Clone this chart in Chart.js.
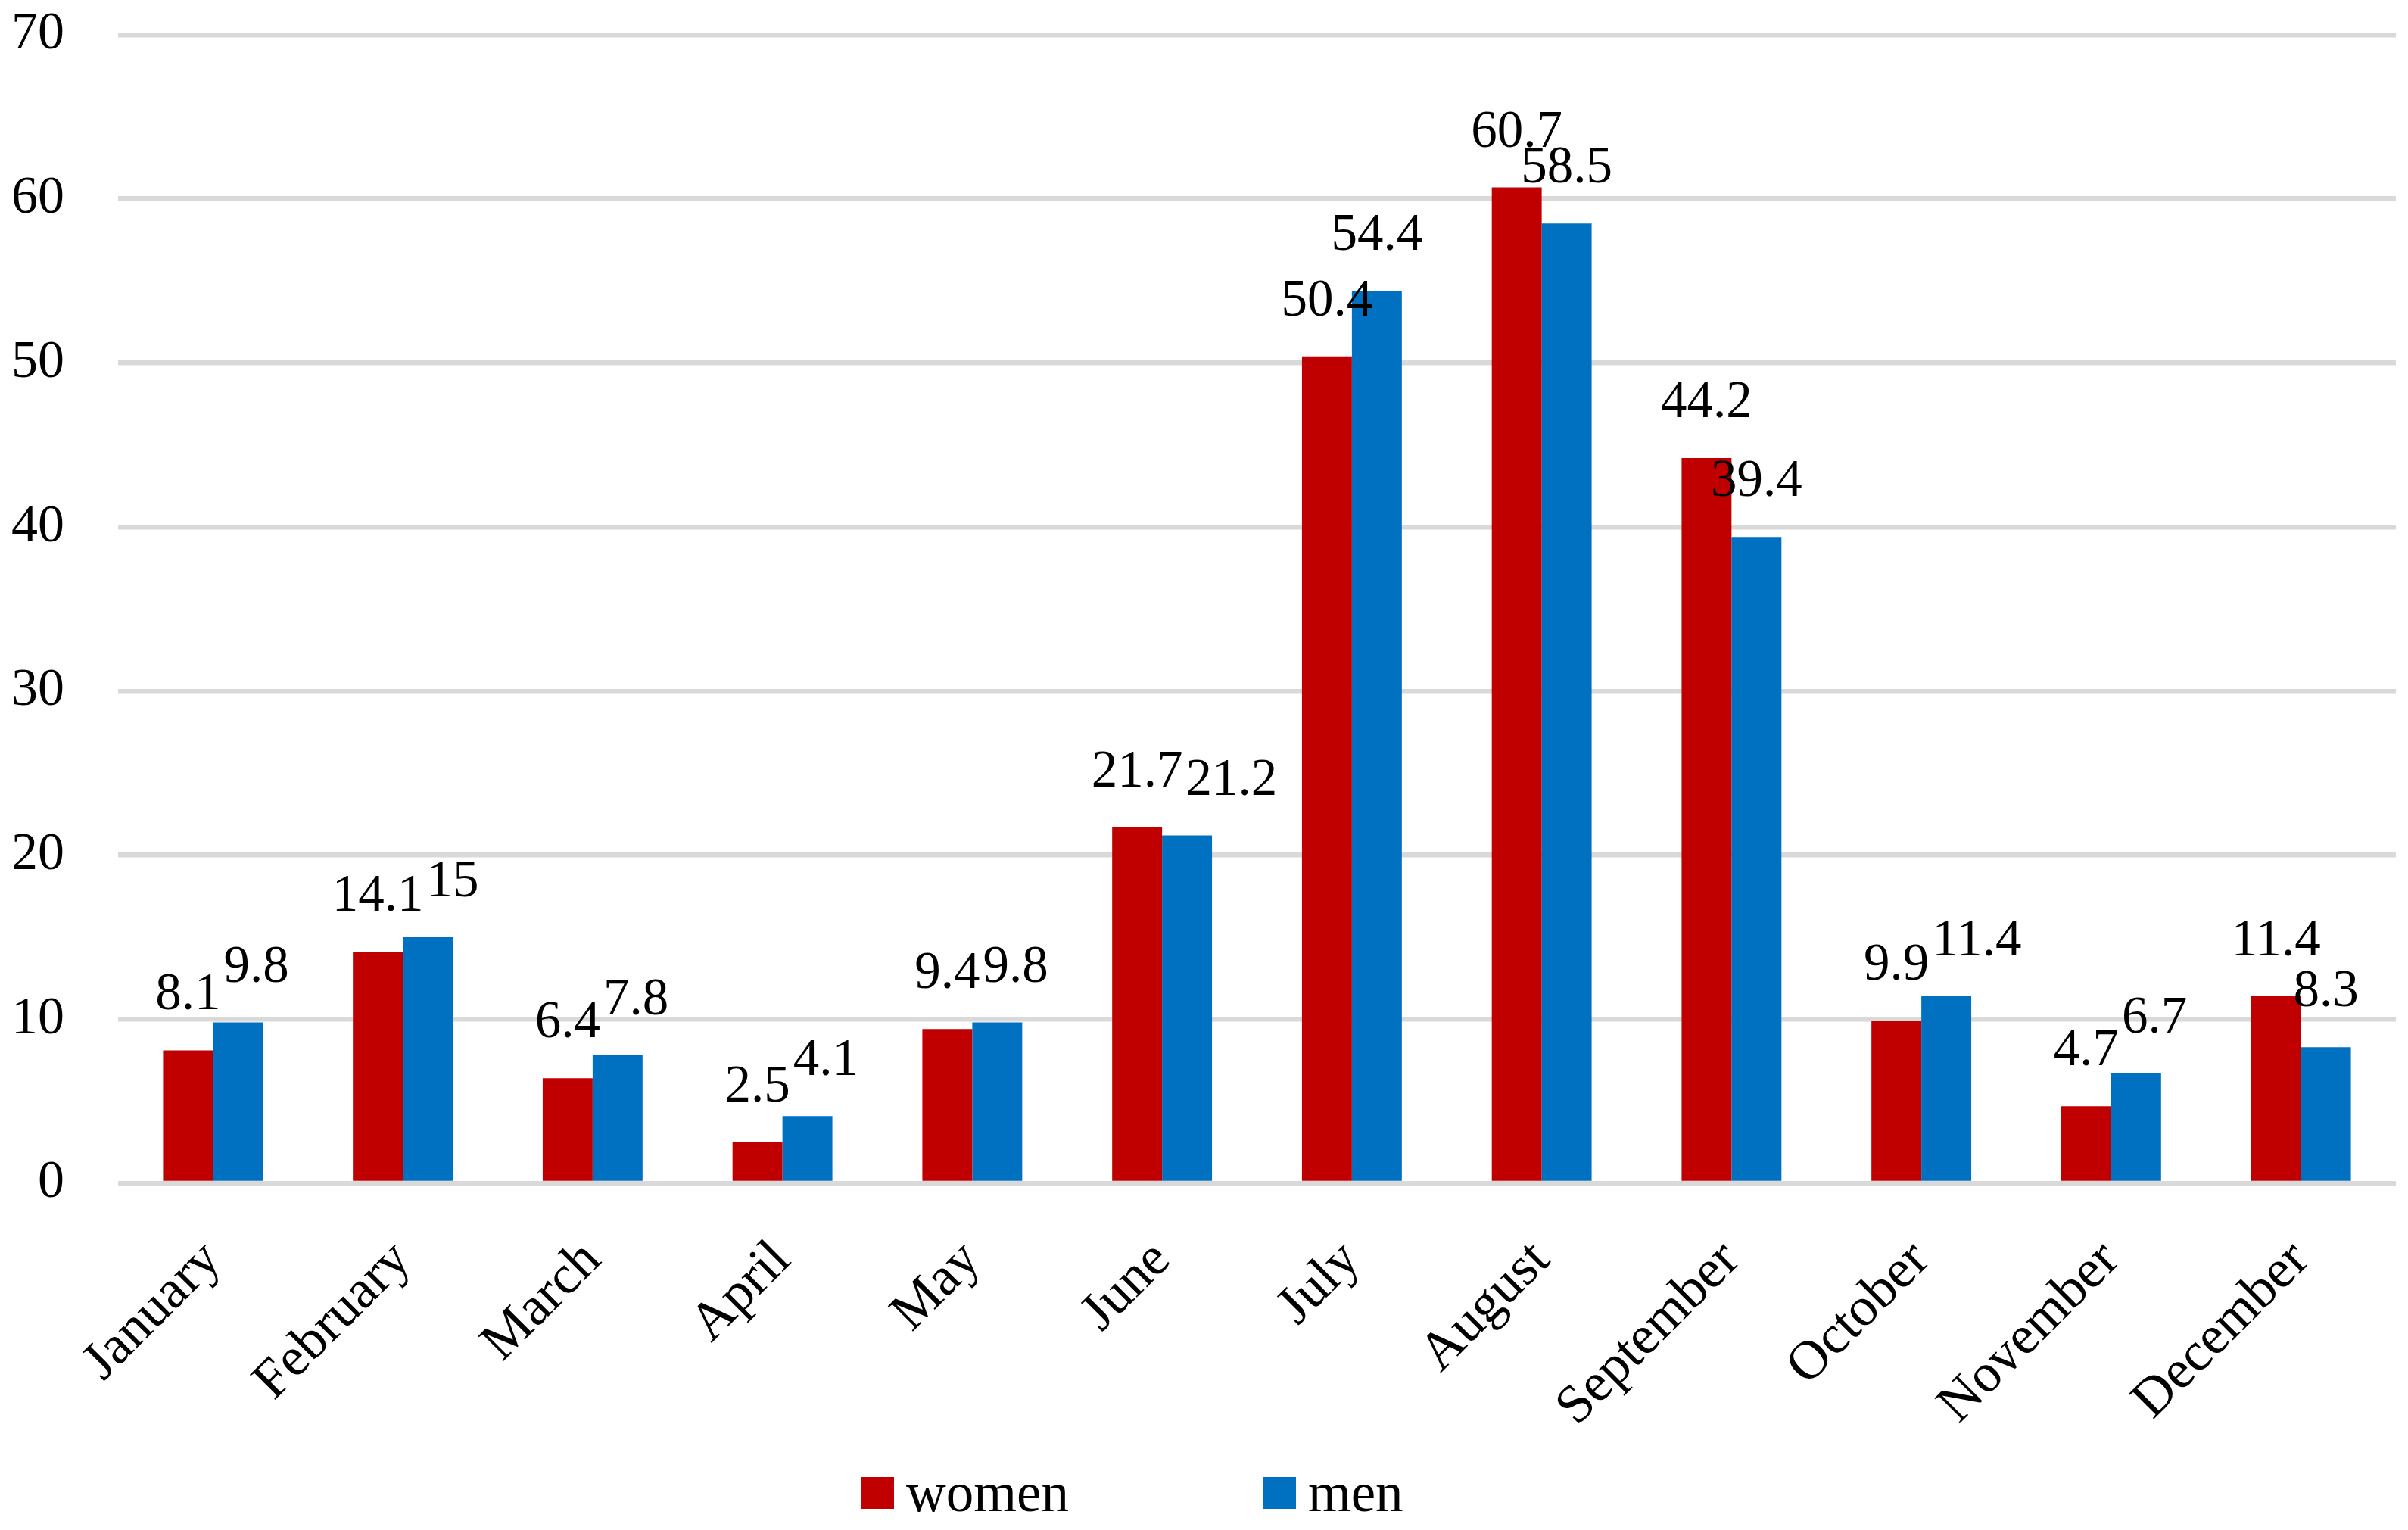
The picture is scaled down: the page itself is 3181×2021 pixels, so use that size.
<!DOCTYPE html>
<html>
<head>
<meta charset="utf-8">
<script src="https://cdn.jsdelivr.net/npm/chart.js@4"></script>
<style>
  html, body { margin: 0; padding: 0; background: #fff; }
  #wrap { position: relative; width: 3181px; height: 2021px; }
  #legend {
    position: absolute; left: 1138px; top: 1930px;
    display: flex; align-items: center;
    font-family: 'Liberation Serif', serif; font-size: 73px; color: #000;
  }
  .item { display: flex; align-items: center; }
  .item + .item { margin-left: 257px; }
  .swatch { width: 43px; height: 42px; margin-right: 16px; }
</style>
</head>
<body>
<div id="wrap">
  <canvas id="chart" width="3181" height="2021"></canvas>
  <div id="legend"></div>
</div>
<script>
const months = ['January', 'February', 'March', 'April', 'May', 'June', 'July',
  'August', 'September', 'October', 'November', 'December'];
const women = [8.1, 14.1, 6.4, 2.5, 9.4, 21.7, 50.4, 60.7, 44.2, 9.9, 4.7, 11.4];
const men = [9.8, 15, 7.8, 4.1, 9.8, 21.2, 54.4, 58.5, 39.4, 11.4, 6.7, 8.3];
const seriesNames = ['women', 'men'];
const seriesColors = ['#C00000', '#0070C0'];

const FONT = "'Liberation Serif', serif";
const PLOT_LEFT = 156;

// value labels above each bar (no datalabels plugin offline).
// when the two labels of a month would collide, the second one slides right.
const valueLabels = {
  id: 'valueLabels',
  afterDatasetsDraw(chart) {
    const ctx = chart.ctx;
    const lift = 54, capH = 46, gap = 4;
    ctx.save();
    ctx.font = '69px ' + FONT;
    ctx.fillStyle = '#000';
    ctx.textAlign = 'center';
    ctx.textBaseline = 'alphabetic';
    const a = chart.getDatasetMeta(0).data;
    const b = chart.getDatasetMeta(1).data;
    a.forEach((barA, j) => {
      const barB = b[j];
      const tA = String(chart.data.datasets[0].data[j]);
      const tB = String(chart.data.datasets[1].data[j]);
      const wA = ctx.measureText(tA).width;
      const wB = ctx.measureText(tB).width;
      const yA = barA.y - lift, yB = barB.y - lift;
      let xB = barB.x;
      if (Math.abs(yA - yB) < capH) {
        const overlap = (barA.x + wA / 2 + gap) - (xB - wB / 2);
        if (overlap > 0) xB += overlap;
      }
      ctx.fillText(tA, barA.x, yA);
      ctx.fillText(tB, xB, yB);
    });
    ctx.restore();
  }
};

const chart = new Chart(document.getElementById('chart'), {
  type: 'bar',
  data: {
    labels: months,
    datasets: [women, men].map((vals, i) => ({
      label: seriesNames[i],
      data: vals,
      backgroundColor: seriesColors[i],
      borderWidth: 0,
      barPercentage: 1,
      categoryPercentage: 0.526
    }))
  },
  options: {
    responsive: false,
    animation: false,
    devicePixelRatio: 1,
    layout: { padding: { top: 46, right: 16, left: 12, bottom: 0 } },
    plugins: {
      legend: { display: false },
      tooltip: { enabled: false }
    },
    scales: {
      x: {
        grid: { display: false },
        border: { display: false },
        ticks: {
          color: '#000',
          font: { family: FONT, size: 72 },
          minRotation: 45,
          maxRotation: 45,
          padding: 52
        },
        afterFit(scale) {
          // keep the plot area where the reference has it
          scale.paddingLeft = 0;
          scale.paddingRight = 0;
          scale.height = 458;
        }
      },
      y: {
        min: 0,
        max: 70,
        grid: { color: '#D9D9D9', lineWidth: 6.5, drawTicks: false },
        border: { display: false },
        ticks: {
          stepSize: 10,
          color: '#000',
          font: { family: FONT, size: 70 },
          padding: 71
        },
        afterFit(scale) {
          scale.paddingTop = 0;
          scale.paddingBottom = 0;
          scale.width = PLOT_LEFT - 12;
        }
      }
    }
  },
  plugins: [valueLabels]
});

// nudge the left padding if the layout still leaves the plot elsewhere
const dx = chart.chartArea.left - PLOT_LEFT;
if (Math.abs(dx) > 0.5) {
  chart.options.layout.padding.left = 12 - dx;
  chart.update();
}

// legend built from the same series
const legend = document.getElementById('legend');
seriesNames.forEach((name, i) => {
  const item = document.createElement('div');
  item.className = 'item';
  const sw = document.createElement('span');
  sw.className = 'swatch';
  sw.style.background = seriesColors[i];
  const txt = document.createElement('span');
  txt.textContent = name;
  item.appendChild(sw);
  item.appendChild(txt);
  legend.appendChild(item);
});
</script>
</body>
</html>
